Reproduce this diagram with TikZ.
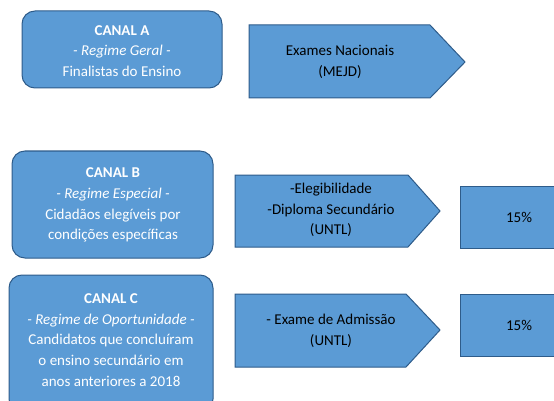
\documentclass[tikz,border=0pt]{standalone}
\usepackage{fontspec}
\setmainfont{Carlito}
\definecolor{boxfill}{HTML}{5B9BD5}
\definecolor{boxline}{HTML}{2E5C8A}
\begin{document}
\begin{tikzpicture}[x=1pt,y=-1pt,
  shp/.style={fill=boxfill,draw=boxline,line width=1pt},
  rbox/.style={shp,rounded corners=13pt},
  wtxt/.style={text=white,align=center,font=\fontsize{15}{20.8}\selectfont,inner sep=0pt},
  btxt/.style={text=black,align=center,font=\fontsize{15}{20.8}\selectfont,inner sep=0pt}]
\useasboundingbox (0,0) rectangle (554,401);
\clip (0,0) rectangle (554,401);
% Canal A
\draw[rbox] (22,11) rectangle (222,88);
\node[wtxt] (ca) at (122,51) {\textbf{CANAL A}\\\textit{- Regime Geral -}\\Finalistas do Ensino};
\draw[shp] (249,25) -- (430,25) -- (465,62) -- (430,98) -- (249,98) -- cycle;
\node[btxt] (ea) at (340,62) {Exames Nacionais\\(MEJD)};
% Canal B
\draw[rbox] (12,151) rectangle (213,258);
\node[wtxt] (cb) at (113,205) {\textbf{CANAL B}\\\textit{- Regime Especial -}\\Cidadãos elegíveis por\\condições específicas};
\draw[shp] (235,175) -- (408,175) -- (440,211) -- (408,247) -- (235,247) -- cycle;
\node[btxt] (eb) at (331,210) {-Elegibilidade\\-Diploma Secundário\\(UNTL)};
\draw[shp] (460,186) rectangle (560,248);
\node[btxt] (pb) at (519,217) {15\%};
% Canal C
\draw[rbox] (9,275) rectangle (213,412);
\node[wtxt] (cc) at (111,340) {\textbf{CANAL C}\\\textit{- Regime de Oportunidade -}\\Candidatos que concluíram\\o ensino secundário em\\anos anteriores a 2018};
\draw[shp] (235,294) -- (406,294) -- (440,330) -- (406,367) -- (235,367) -- cycle;
\node[btxt] (ec) at (331,331) {- Exame de Admissão\\(UNTL)};
\draw[shp] (460,294) rectangle (560,356);
\node[btxt] (pc) at (519,325) {15\%};
\end{tikzpicture}
\end{document}
